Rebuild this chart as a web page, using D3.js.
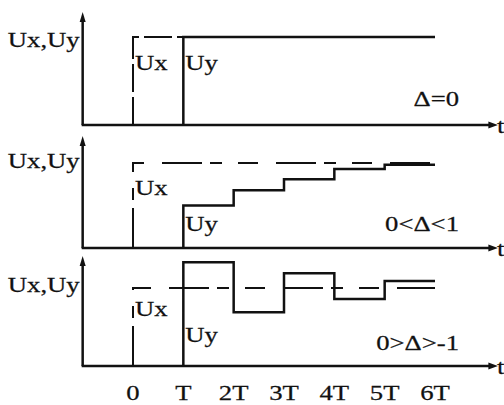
<!DOCTYPE html>
<html>
<head>
<meta charset="utf-8">
<script src="https://cdn.jsdelivr.net/npm/d3@7"></script>
<style>
  body { margin: 0; background: #fff; }
  text { font-family: "Liberation Serif", "Times New Roman", serif; fill: #111; stroke: #111; stroke-width: 0.25; }
</style>
</head>
<body>
<div id="chart"></div>
<script>
// sampling instants, in units of T
const ticks = [0, 1, 2, 3, 4, 5, 6];
const tickLabels = ['0', 'T', '2T', '3T', '4T', '5T', '6T'];

// Ux is a unit step at t = 0
const uxLevel = 1;

// Uy held over each interval [T,2T], [2T,3T] ... [5T,6T]
const uyZero = [1, 1, 1, 1, 1];                 // Δ = 0
const uyPositive = [0.5, 0.68, 0.81, 0.93, 0.98]; // 0 < Δ < 1
const uyNegative = [1.33, 0.69, 1.19, 0.86, 1.09]; // 0 > Δ > -1

const panelLabels = ['Δ=0', '0<Δ<1', '0>Δ>-1'];

const w = 504, h = 405;
const ink = '#111';
const sx = 1.27; // glyphs in the scan are wide

const x = d3.scaleLinear().domain([0, 6]).range([133, 435]);

const panels = [
  { uy: uyZero,     base: 125, top: 37,  axisTop: 12,  uxY: 70,  uyY: 70,  labY: 106, nameY: 47 },
  { uy: uyPositive, base: 248, top: 163, axisTop: 136, uxY: 195, uyY: 231, labY: 231, nameY: 168 },
  { uy: uyNegative, base: 366, top: 288, axisTop: 256, uxY: 316, uyY: 342, labY: 350, nameY: 292 }
];

const svg = d3.select('#chart')
  .append('svg')
  .attr('width', w)
  .attr('height', h);

function label(g, txt, px, py, anchor = 'start') {
  g.append('text')
    .attr('transform', `translate(${px},${py}) scale(${sx},1)`)
    .attr('text-anchor', anchor)
    .style('font-size', '21px')
    .text(txt);
}

panels.forEach((p, i) => {
  const y = d3.scaleLinear().domain([0, 1]).range([p.base, p.top]);
  const g = svg.append('g');
  const x0 = x(-1);

  // axes
  g.append('line')
    .attr('x1', x0).attr('y1', p.base)
    .attr('x2', x0).attr('y2', p.axisTop + 8)
    .attr('stroke', ink).attr('stroke-width', 2.5);
  g.append('path')
    .attr('d', `M${x0 - 3},${p.axisTop + 10} L${x0},${p.axisTop} L${x0 + 3},${p.axisTop + 10} Z`)
    .attr('fill', ink);
  g.append('line')
    .attr('x1', x0 - 1).attr('y1', p.base)
    .attr('x2', x(7.1)).attr('y2', p.base)
    .attr('stroke', ink).attr('stroke-width', 2.5);
  g.append('path')
    .attr('d', `M${x(7.1) - 2},${p.base - 3.5} L${x(7.25)},${p.base} L${x(7.1) - 2},${p.base + 3.5} Z`)
    .attr('fill', ink);

  // Ux (dashed step)
  const ux = d3.line().x(d => x(d[0])).y(d => y(d[1]));
  g.append('path')
    .attr('d', ux([[0, 0], [0, uxLevel], [6, uxLevel]]))
    .attr('fill', 'none')
    .attr('stroke', ink)
    .attr('stroke-width', 2)
    .attr('stroke-dasharray', i === 0 ? '28,5' : '40,8,12,16,20,18');

  // Uy (solid staircase)
  const pts = [[1, 0]].concat(p.uy.map((v, k) => [k + 1, v]), [[6, p.uy[p.uy.length - 1]]]);
  const uy = d3.line().x(d => x(d[0])).y(d => y(d[1])).curve(d3.curveStepAfter);
  g.append('path')
    .attr('d', uy(pts))
    .attr('fill', 'none')
    .attr('stroke', ink)
    .attr('stroke-width', 2.5);

  // text
  label(g, 'Ux,Uy', x0 - 3, p.nameY, 'end');
  label(g, 'Ux', x(0) + 2, p.uxY);
  label(g, 'Uy', x(1) + 2, p.uyY);
  label(g, panelLabels[i], 459, p.labY, 'end');
  label(g, 't', 497, p.base + 8);
});

// time tick labels
svg.append('g')
  .selectAll('text')
  .data(ticks)
  .join('text')
  .attr('transform', d => `translate(${x(d)},400) scale(${sx},1)`)
  .attr('text-anchor', 'middle')
  .style('font-size', '21px')
  .text((d, i) => tickLabels[i]);
</script>
</body>
</html>
